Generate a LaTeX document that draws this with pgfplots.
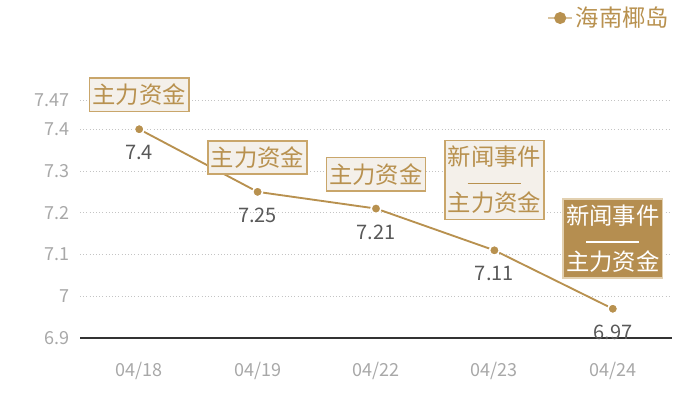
\documentclass[border=0pt]{standalone}
\usepackage{fontspec}
\setmainfont{Noto Sans CJK SC}
\usepackage{pgfplots}
\pgfplotsset{compat=1.18}

\definecolor{gold}{HTML}{B8914F}
\definecolor{goldlite}{HTML}{D9C39E}
\definecolor{boxline}{HTML}{C9A66B}
\definecolor{boxfill}{HTML}{F4F0EA}
\definecolor{darkbox}{HTML}{B58E50}
\definecolor{darkboxline}{HTML}{E2D0B0}
\definecolor{ticktext}{HTML}{A8A8A8}
\definecolor{valtext}{HTML}{595959}
\definecolor{gridc}{HTML}{C4C4C4}

\tikzset{
  tag/.style={draw=boxline, fill=boxfill, text=gold, line width=1.2pt,
    inner xsep=2.2pt, inner ysep=4.3pt, align=center,
    font=\fontsize{17.5pt}{17.25pt}\selectfont, anchor=south},
  darktag/.style={tag, draw=darkboxline, fill=darkbox, text=white},
}
\newcommand{\twoline}{新闻事件\\\rule[3.5pt]{40pt}{1pt}\\主力资金}

\begin{document}
\begin{tikzpicture}
\useasboundingbox (0,0) rectangle (525pt,300pt);
\begin{axis}[
  at={(60pt,46.5pt)}, anchor=south west,
  scale only axis,
  width=444pt, height=178.5pt,
  xmin=-0.5, xmax=4.5,
  ymin=6.9, ymax=7.47,
  xtick={0,1,2,3,4},
  xticklabels={04/18,04/19,04/22,04/23,04/24},
  ytick={6.9,7,7.1,7.2,7.3,7.4,7.47},
  yticklabels={6.9,7,7.1,7.2,7.3,7.4,7.47},
  major tick length=0pt,
  axis x line*=bottom, axis y line*=left,
  y axis line style={draw=none},
  x axis line style={draw=black!80, line width=0.8pt},
  ymajorgrids,
  major grid style={gridc, dotted, line width=0.7pt},
  tick label style={font=\fontsize{13.5pt}{15pt}\selectfont, text=ticktext, inner sep=0pt},
  yticklabel style={anchor=east, xshift=-7.5pt},
  xticklabel style={anchor=center, yshift=-24.5pt},
  /pgf/number format/assume math mode=true,
  clip=false,
  nodes near coords,
  nodes near coords style={font=\fontsize{15pt}{17pt}\selectfont, text=valtext,
    anchor=north, inner sep=0pt, yshift=-11.5pt},
  legend style={at={(rel axis cs:1,1)}, anchor=east, yshift=61.5pt,
    draw=none, fill=none, text=gold, font=\fontsize{17.5pt}{18pt}\selectfont,
    inner sep=0pt, /tikz/every even column/.append style={column sep=5pt}},
  legend image code/.code={
    \draw[goldlite, line width=1.3pt] (0pt,0pt) -- (18pt,0pt);
    \fill[gold] (9pt,0pt) circle (3.8pt);
  },
]
\addplot[gold, line width=1.4pt, mark=*, mark size=3.7pt,
  mark options={fill=gold, draw=white, line width=1.2pt}]
  coordinates {(0,7.4) (1,7.25) (2,7.21) (3,7.11) (4,6.97)};
\addlegendentry{海南椰岛}

\node[tag, yshift=12.75pt] at (axis cs:0,7.4) {主力资金};
\node[tag, yshift=12.75pt] at (axis cs:1,7.25) {主力资金};
\node[tag, yshift=12.75pt] at (axis cs:2,7.21) {主力资金};
\node[tag, yshift=22.5pt] at (axis cs:3,7.11) {\twoline};
\node[darktag, yshift=22.5pt] at (axis cs:4,6.97) {\twoline};
\end{axis}
\end{tikzpicture}
\end{document}
